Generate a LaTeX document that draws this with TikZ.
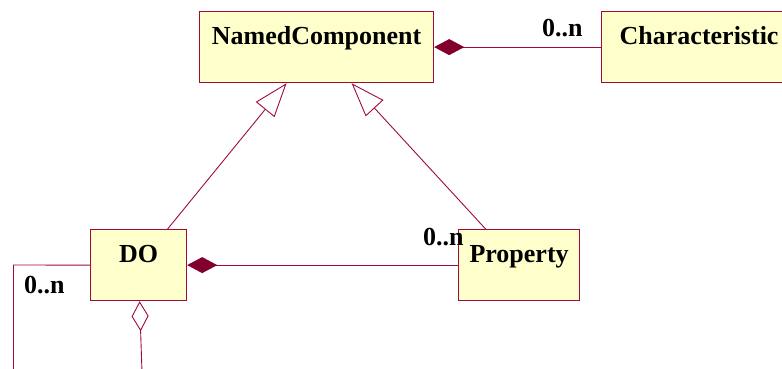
\documentclass[tikz,border=0pt]{standalone}
\usepackage{fontspec}
\setmainfont{Liberation Serif}
\usetikzlibrary{arrows.meta}
\definecolor{umlline}{RGB}{160,10,60}
\definecolor{umlfill}{RGB}{255,255,204}
\definecolor{umldia}{RGB}{130,0,45}
\tikzset{
  classbox/.style={draw=umlline, line width=1.2pt, fill=umlfill, anchor=north west,
    font=\fontsize{26}{30}\selectfont\bfseries, text height=19pt, text depth=24pt,
    inner ysep=14pt, inner xsep=0pt, align=center},
  conn/.style={draw=umlline, line width=0.9pt},
  comp/.style={conn, -{Diamond[length=30pt,width=16pt,fill=umldia,color=umldia]}},
  aggr/.style={conn, -{Diamond[length=30pt,width=17pt,open]}},
  gen/.style={conn, -{Triangle[length=34pt,width=24pt,open]}},
  mult/.style={anchor=base west, inner sep=0pt, font=\fontsize{26}{30}\selectfont\bfseries}
}
\begin{document}
\begin{tikzpicture}[x=1pt,y=-1pt]
\useasboundingbox (0,0) rectangle (782,368);
\node[classbox, minimum width=234pt] (nc) at (199,11) {NamedComponent};
\node[classbox, minimum width=195pt] (ch) at (601,11) {Characteristic};
\node[classbox, minimum width=96pt] (do) at (90,229) {DO};
\node[classbox, minimum width=121pt] (pr) at (458,229) {Property};
\coordinate (lcorner) at (13.5,265);
\coordinate (lend) at (13.5,372);
\coordinate (aend) at (142,372);
\draw[comp] (ch.west) -- (nc.east);
\draw[comp] (pr.west) -- (do.east);
\draw[gen] ([xshift=29pt]do.north) -- ([xshift=-30pt]nc.south);
\draw[gen] ([xshift=-33.5pt]pr.north) -- ([xshift=35pt]nc.south);
\draw[conn] (do.west) -- (lcorner) -- (lend);
\draw[aggr] (aend) -- ([xshift=1pt]do.south);
\node[mult] (m1) at (542,36) {0..n};
\node[mult] (m2) at (423,245) {0..n};
\node[mult] (m3) at (24,293) {0..n};
\end{tikzpicture}
\end{document}
